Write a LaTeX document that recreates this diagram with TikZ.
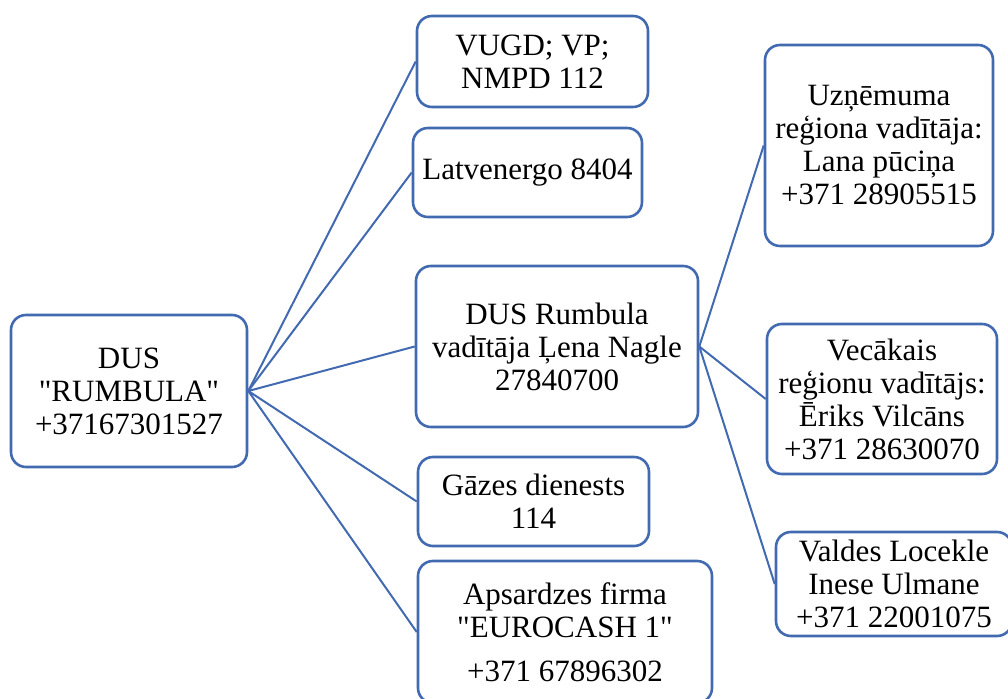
\documentclass[tikz,border=0pt]{standalone}
\usepackage{fontspec}
\setmainfont{Liberation Serif}[Ligatures=TeXOff]
\definecolor{bl}{RGB}{66,106,176}
\tikzset{
  box/.style={draw=bl, line width=1.3pt, rounded corners=7.5pt, align=center, inner sep=0pt,
    font=\fontsize{15.5}{16.5}\selectfont, text=black},
  conn/.style={draw=bl, line width=1pt}
}
\begin{document}
\begin{tikzpicture}[x=0.5pt,y=-0.5pt]
\useasboundingbox (0,0) rectangle (1008,699);
\clip (0,0) rectangle (1008,699);
\node[box, minimum width=118pt, minimum height=76pt] (root) at (129,391) {DUS\\"RUMBULA"\\+37167301527};
\node[box, minimum width=115.5pt, minimum height=45.5pt] (vugd) at (532.5,61.5) {VUGD; VP;\\NMPD 112};
\node[box, minimum width=114.5pt, minimum height=44.5pt] (latv) at (527.5,172.5) {Latvenergo 8404};
\node[box, minimum width=141pt, minimum height=80.5pt] (dus) at (557,346.5) {DUS Rumbula\\vadītāja Ļena Nagle\\27840700};
\node[box, minimum width=115.5pt, minimum height=44.5pt] (gaz) at (533.5,501.5) {Gāzes dienests\\114};
\node[box, minimum width=147pt, minimum height=71pt] (aps) at (565,632) {Apsardzes firma\\"EUROCASH 1"\\[5.5pt]+371 67896302};
\node[box, minimum width=114pt, minimum height=100.5pt] (uzn) at (879,145.5) {Uzņēmuma\\reģiona vadītāja:\\Lana pūciņa\\+371 28905515};
\node[box, minimum width=115pt, minimum height=75pt] (vec) at (882,399) {Vecākais\\reģionu vadītājs:\\Ēriks Vilcāns\\+371 28630070};
\node[box, minimum width=118pt, minimum height=52pt] (val) at (894,584) {Valdes Locekle\\Inese Ulmane\\+371 22001075};
\foreach \c in {vugd,latv,dus,gaz,aps}{\draw[conn] (root.east) -- (\c.west);}
\foreach \c in {uzn,vec,val}{\draw[conn] (dus.east) -- (\c.west);}
\end{tikzpicture}
\end{document}
